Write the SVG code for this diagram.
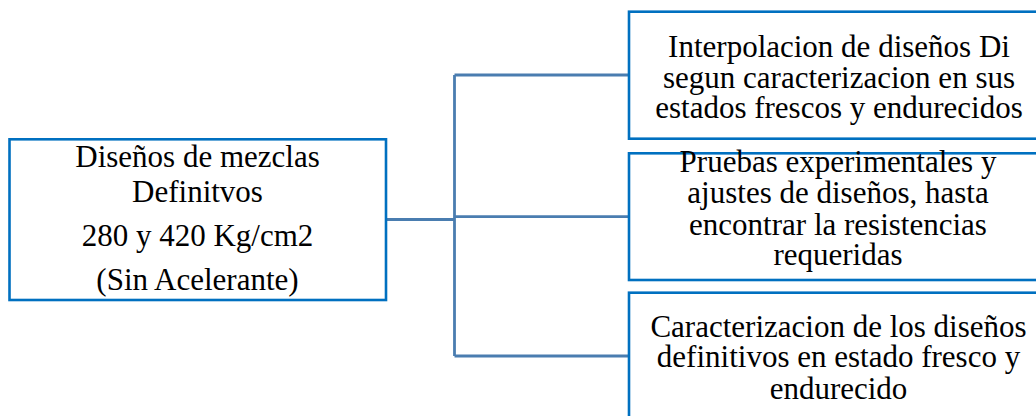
<svg xmlns="http://www.w3.org/2000/svg" width="1036" height="416" viewBox="0 0 1036 416">
  <style>
    .box { fill: #ffffff; stroke: #0070C0; stroke-width: 2.6; }
    .label { font-family: "Liberation Serif", "Times New Roman", serif; font-size: 31px; fill: #000000; text-anchor: middle; }
    .link { fill: none; stroke: #4A7DB0; stroke-width: 2.8; }
  </style>
  <rect width="1036" height="416" fill="#ffffff"/>

  <!-- tree connectors -->
  <g id="connectors">
    <path class="link" d="M386 219.5 H454.5"/>
    <path class="link" d="M454.5 75 V356"/>
    <path class="link" d="M454.5 75 H629"/>
    <path class="link" d="M454.5 216.7 H629"/>
    <path class="link" d="M454.5 356 H629"/>
  </g>

  <!-- root node -->
  <g id="root">
    <rect class="box" x="9.5" y="139.3" width="376.5" height="160.7"/>
    <text class="label" x="197.5" y="166.7">Diseños de mezclas</text>
    <text class="label" x="197.5" y="201.7">Definitvos</text>
    <text class="label" x="197.5" y="246">280 y 420 Kg/cm2</text>
    <text class="label" x="197.5" y="290">(Sin Acelerante)</text>
  </g>

  <!-- branch 1 -->
  <g id="interpolacion">
    <rect class="box" x="629" y="11.7" width="420" height="127"/>
    <text class="label" x="839" y="56.7">Interpolacion de diseños Di</text>
    <text class="label" x="839" y="88.3">segun caracterizacion en sus</text>
    <text class="label" x="839" y="118.3">estados frescos y endurecidos</text>
  </g>

  <!-- branch 2 -->
  <g id="pruebas">
    <rect class="box" x="629" y="153.3" width="420" height="126.7"/>
    <text class="label" x="838" y="171.7">Pruebas experimentales y</text>
    <text class="label" x="838" y="203.3">ajustes de diseños, hasta</text>
    <text class="label" x="838" y="235">encontrar la resistencias</text>
    <text class="label" x="838" y="265">requeridas</text>
  </g>

  <!-- branch 3 -->
  <g id="caracterizacion">
    <rect class="box" x="629" y="292.7" width="420" height="140"/>
    <text class="label" x="838.5" y="336.7">Caracterizacion de los diseños</text>
    <text class="label" x="838.5" y="367.3">definitivos en estado fresco y</text>
    <text class="label" x="838.5" y="399">endurecido</text>
  </g>
</svg>
